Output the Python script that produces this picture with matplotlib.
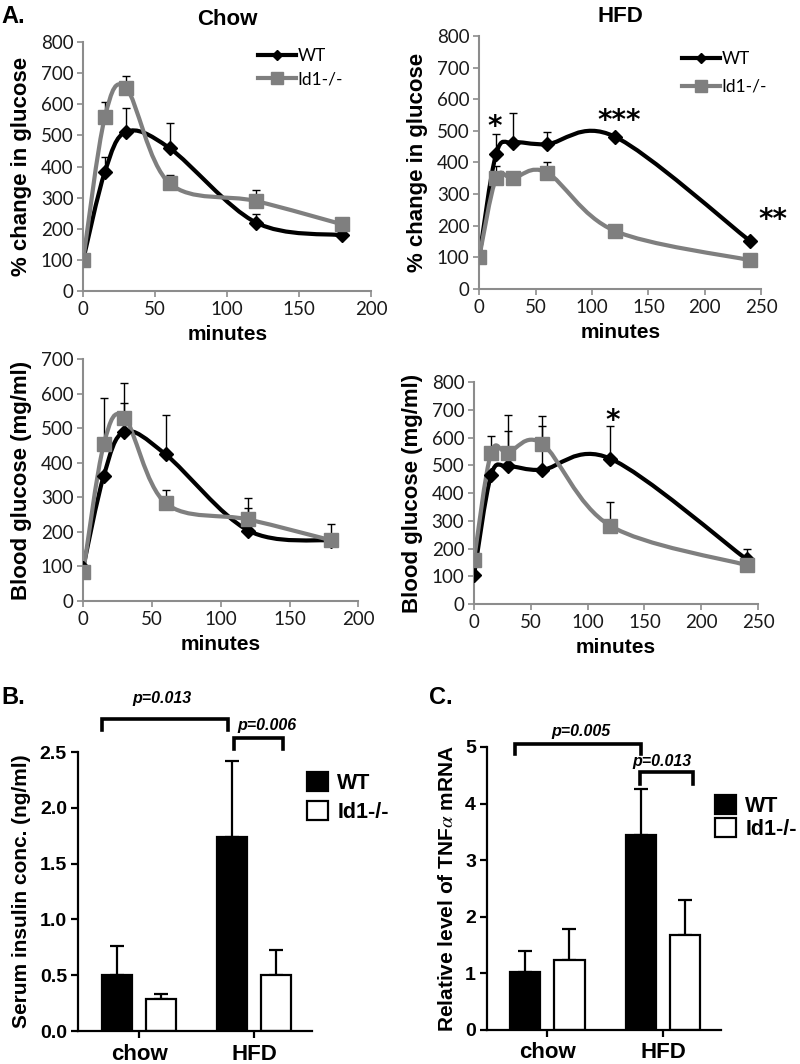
"""Glucose tolerance curves, serum insulin and TNFa mRNA for WT vs Id1-/- mice."""

import matplotlib
import numpy as np

matplotlib.use("Agg")
from matplotlib import pyplot as plt  # noqa: E402
from matplotlib.lines import Line2D  # noqa: E402
from matplotlib.patches import PathPatch  # noqa: E402
from matplotlib.path import Path  # noqa: E402

NAN = np.nan

# --- A. time courses ---
chow_minutes = [0, 15, 30, 60, 120, 180]
hfd_minutes = [0, 15, 30, 60, 120, 240]

chow_pct_wt = [100, 382, 512, 459, 220, 179]
chow_pct_wt_top = [NAN, 429, 588, 539, 248, NAN]
chow_pct_ko = [100, 558, 651, 346, 289, 214]
chow_pct_ko_top = [NAN, 608, 692, 374, 324, NAN]

hfd_pct_wt = [100, 427, 463, 458, 482, 152]
hfd_pct_wt_top = [NAN, 490, 557, 496, NAN, NAN]
hfd_pct_ko = [100, 350, 350, 368, 184, 91]
hfd_pct_ko_top = [NAN, 388, NAN, 400, NAN, NAN]

chow_bg_wt = [97, 363, 490, 424, 204, 175]
chow_bg_wt_top = [NAN, NAN, 574, 538, 268, NAN]
chow_bg_ko = [83, 454, 531, 283, 236, 176]
chow_bg_ko_top = [NAN, 587, 631, 320, 299, 222]

hfd_bg_wt = [104, 464, 496, 484, 524, 161]
hfd_bg_wt_top = [NAN, NAN, 622, 640, 643, 200]
hfd_bg_ko = [158, 544, 546, 578, 282, 140]
hfd_bg_ko_top = [NAN, 604, 683, 676, 367, NAN]

# --- B / C. bar charts ---
diets = ["chow", "HFD"]
insulin_wt = [0.50, 1.74]
insulin_wt_top = [0.76, 2.42]
insulin_ko = [0.29, 0.50]
insulin_ko_top = [0.33, 0.73]

tnf_wt = [1.03, 3.45]
tnf_wt_top = [1.39, 4.25]
tnf_ko = [1.24, 1.67]
tnf_ko_top = [1.78, 2.29]

GREY = "#7f7f7f"
AXIS_GREY = "#8c8c8c"
BOLD = "Liberation Sans"
TICK_FONT = "Lato"

plt.rcParams["mathtext.fontset"] = "stix"


def smooth_path(x, y):
    """Excel-style smoothed line as cubic Bezier segments through the points."""
    pts = np.column_stack([x, y]).astype(float)
    n = len(pts)
    verts = [pts[0]]
    codes = [Path.MOVETO]
    for i in range(n - 1):
        prev_pt = pts[max(i - 1, 0)]
        next_pt = pts[min(i + 2, n - 1)]
        c1 = pts[i] + (pts[i + 1] - prev_pt) / 6.0
        c2 = pts[i + 1] - (next_pt - pts[i]) / 6.0
        verts += [c1, c2, pts[i + 1]]
        codes += [Path.CURVE4] * 3
    return Path(verts, codes)


def draw_series(ax, x, y, top, color, marker, msize):
    x = np.asarray(x, dtype=float)
    y = np.asarray(y, dtype=float)
    top = np.asarray(top, dtype=float)
    has_err = np.isfinite(top)
    ax.errorbar(x[has_err], y[has_err], yerr=[np.zeros(has_err.sum()), top[has_err] - y[has_err]],
                fmt="none", ecolor="black", elinewidth=1.0, capsize=3.2, capthick=1.0, zorder=1)
    ax.add_patch(PathPatch(smooth_path(x, y), fill=False, edgecolor=color, lw=3.0,
                           joinstyle="round", capstyle="round", zorder=2))
    ax.plot(x, y, linestyle="none", marker=marker, markersize=msize, color=color, zorder=3)


def style_line_axes(ax, xmax, ymax, ylabel):
    ax.set_xlim(0, xmax)
    ax.set_ylim(0, ymax)
    ax.set_xticks(np.arange(0, xmax + 1, 50))
    ax.set_yticks(np.arange(0, ymax + 1, 100))
    for side in ("top", "right"):
        ax.spines[side].set_visible(False)
    for side in ("left", "bottom"):
        ax.spines[side].set_color(AXIS_GREY)
        ax.spines[side].set_linewidth(1.5)
    ax.tick_params(direction="out", length=4, width=1.2, color=AXIS_GREY, labelsize=13.5, pad=3)
    for lab in ax.get_xticklabels() + ax.get_yticklabels():
        lab.set_fontfamily(TICK_FONT)
        lab.set_color("#1a1a1a")
    ax.set_xlabel("minutes", fontsize=15, fontweight="bold", fontfamily=BOLD, labelpad=5)
    ax.set_ylabel(ylabel, fontsize=16, fontweight="bold", fontfamily=BOLD, labelpad=6)


def line_legend(ax, anchor, spacing):
    handles = [
        Line2D([], [], color="black", lw=3.0, marker="D", markersize=5.5),
        Line2D([], [], color=GREY, lw=3.0, marker="s", markersize=9),
    ]
    ax.legend(handles, ["WT", "Id1-/-"], loc="upper left", bbox_to_anchor=anchor,
              frameon=False, handlelength=2.2, handletextpad=0.05, borderpad=0, borderaxespad=0,
              labelspacing=spacing, prop={"family": TICK_FONT, "size": 12.5})


def star(ax, x, y, text):
    # glyph centre placed at y
    ax.annotate(text, xy=(x, y), xytext=(0, -12), textcoords="offset points", ha="center",
                va="baseline", fontsize=20, fontweight="bold", fontfamily="DejaVu Sans",
                annotation_clip=False)


def bar_panel(ax, wt, wt_top, ko, ko_top, ymax, yticks, ytick_fmt, ylabel, xlim):
    pos = np.arange(len(diets))
    off = 0.19
    width = 0.26
    wt = np.asarray(wt)
    ko = np.asarray(ko)
    ax.errorbar(pos - off, wt, yerr=[np.zeros(len(wt)), np.asarray(wt_top) - wt], fmt="none",
                ecolor="black", elinewidth=1.6, capsize=4.8, capthick=1.6, zorder=1)
    ax.errorbar(pos + off, ko, yerr=[np.zeros(len(ko)), np.asarray(ko_top) - ko], fmt="none",
                ecolor="black", elinewidth=1.6, capsize=4.8, capthick=1.6, zorder=1)
    ax.bar(pos - off, wt, width, color="black", edgecolor="black", lw=1.6, zorder=2, label="WT")
    ax.bar(pos + off, ko, width, color="white", edgecolor="black", lw=1.6, zorder=2, label="Id1-/-")
    ax.set_xlim(*xlim)
    ax.set_ylim(0, ymax)
    ax.set_xticks(pos)
    ax.set_xticklabels(diets)
    ax.set_yticks(yticks)
    ax.set_yticklabels([ytick_fmt.format(t) for t in yticks])
    for side in ("top", "right"):
        ax.spines[side].set_visible(False)
    for side in ("left", "bottom"):
        ax.spines[side].set_linewidth(1.6)
    ax.tick_params(axis="both", direction="out", length=5, width=1.6, pad=3)
    ax.tick_params(axis="y", labelsize=14)
    ax.tick_params(axis="x", labelsize=16, pad=4)
    for lab in ax.get_xticklabels() + ax.get_yticklabels():
        lab.set_fontfamily(BOLD)
        lab.set_fontweight("bold")
    ax.set_ylabel(ylabel, fontsize=15, fontweight="bold", fontfamily=BOLD, labelpad=6)


def bar_legend(ax, anchor, spacing):
    ax.legend(loc="upper left", bbox_to_anchor=anchor, frameon=False, handlelength=0.95,
              handleheight=0.95, handletextpad=0.45, borderpad=0, borderaxespad=0,
              labelspacing=spacing, prop={"family": BOLD, "weight": "bold", "size": 15.5})


def bracket(ax, x0, x1, y_top, y_low0, y_low1, label, lx, ly):
    ax.plot([x0, x0, x1, x1], [y_low0, y_top, y_top, y_low1], color="black", lw=2.6,
            solid_joinstyle="miter", clip_on=False)
    ax.text(lx, ly, label, ha="center", va="center", fontsize=11.5, fontweight="bold",
            fontstyle="italic", fontfamily=BOLD, clip_on=False)


fig = plt.figure(figsize=(8, 10.64), dpi=100)

# A, top left: chow % change
ax1 = fig.add_axes([0.104, 0.7265, 0.36, 0.234])
draw_series(ax1, chow_minutes, chow_pct_wt, chow_pct_wt_top, "black", "D", 7.5)
draw_series(ax1, chow_minutes, chow_pct_ko, chow_pct_ko_top, GREY, "s", 10)
style_line_axes(ax1, 200, 800, "% change in glucose")
ax1.set_title("Chow", fontsize=16, fontweight="bold", fontfamily=BOLD, pad=12)
line_legend(ax1, (0.608, 0.976), 0.42)

# A, top right: HFD % change
ax2 = fig.add_axes([0.599, 0.7284, 0.3525, 0.2378])
draw_series(ax2, hfd_minutes, hfd_pct_wt, hfd_pct_wt_top, "black", "D", 7.5)
draw_series(ax2, hfd_minutes, hfd_pct_ko, hfd_pct_ko_top, GREY, "s", 10)
style_line_axes(ax2, 250, 800, "% change in glucose")
ax2.set_title("HFD", fontsize=16, fontweight="bold", fontfamily=BOLD, pad=10)
line_legend(ax2, (0.72, 0.94), 0.66)
star(ax2, 14, 538, "*")
star(ax2, 124, 557, "***")
star(ax2, 260, 244, "**")

# A, middle left: chow blood glucose
ax3 = fig.add_axes([0.104, 0.4351, 0.344, 0.2274])
draw_series(ax3, chow_minutes, chow_bg_wt, chow_bg_wt_top, "black", "D", 7.5)
draw_series(ax3, chow_minutes, chow_bg_ko, chow_bg_ko_top, GREY, "s", 10)
style_line_axes(ax3, 200, 700, "Blood glucose (mg/ml)")

# A, middle right: HFD blood glucose
ax4 = fig.add_axes([0.5925, 0.4323, 0.355, 0.2086])
draw_series(ax4, hfd_minutes, hfd_bg_wt, hfd_bg_wt_top, "black", "D", 7.5)
draw_series(ax4, hfd_minutes, hfd_bg_ko, hfd_bg_ko_top, GREY, "s", 10)
style_line_axes(ax4, 250, 800, "Blood glucose (mg/ml)")
star(ax4, 122, 692, "*")

# B: serum insulin
ax5 = fig.add_axes([0.0975, 0.031, 0.2925, 0.2622])
bar_panel(ax5, insulin_wt, insulin_wt_top, insulin_ko, insulin_ko_top, 2.5,
          [0.0, 0.5, 1.0, 1.5, 2.0, 2.5], "{:.1f}", "Serum insulin conc. (ng/ml)", (-0.53, 1.5))
bracket(ax5, -0.32, 0.77, 2.80, 2.70, 2.70, "p=0.013", 0.2, 2.98)
bracket(ax5, 0.82, 1.25, 2.63, 2.53, 2.53, "p=0.006", 1.11, 2.74)
bar_legend(ax5, (0.979, 0.928), 0.35)

# C: TNFa mRNA
ax6 = fig.add_axes([0.609, 0.032, 0.2925, 0.266])
bar_panel(ax6, tnf_wt, tnf_wt_top, tnf_ko, tnf_ko_top, 5, [0, 1, 2, 3, 4, 5], "{:d}",
          r"Relative level of TNF$\alpha$ mRNA", (-0.52, 1.5))
bracket(ax6, -0.28, 0.81, 5.05, 4.88, 4.88, "p=0.005", 0.29, 5.28)
bracket(ax6, 0.80, 1.26, 4.55, 4.35, 4.35, "p=0.013", 0.99, 4.74)
bar_legend(ax6, (0.974, 0.83), 0.08)

# panel letters
fig.text(0.002, 0.995, "A.", fontsize=17, fontweight="bold", fontfamily=BOLD, va="top")
fig.text(0.002, 0.355, "B.", fontsize=17, fontweight="bold", fontfamily=BOLD, va="top")
fig.text(0.536, 0.355, "C.", fontsize=17, fontweight="bold", fontfamily=BOLD, va="top")

fig.savefig("out.png", dpi=100)
